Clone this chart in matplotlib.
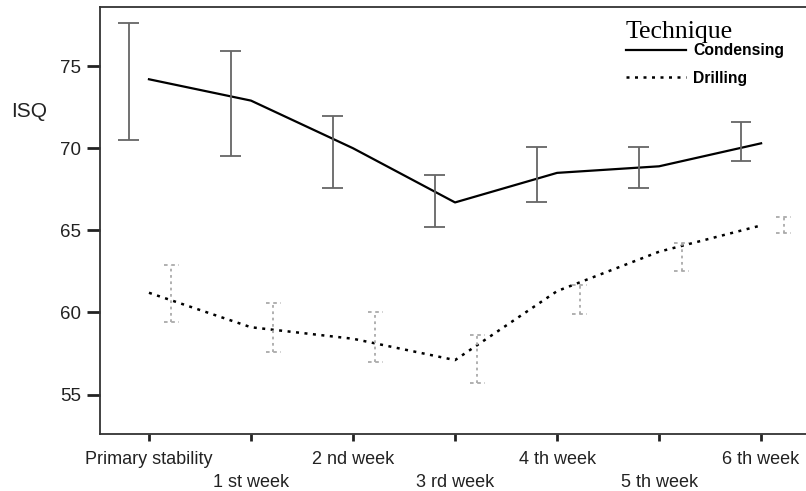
import matplotlib
matplotlib.use("Agg")
import matplotlib.pyplot as plt

plt.rcParams["font.family"] = ["Liberation Sans", "DejaVu Sans"]

weeks = ["Primary stability", "1 st week", "2 nd week", "3 rd week",
         "4 th week", "5 th week", "6 th week"]

# condensing technique
cond_mean = [74.2, 72.9, 70.0, 66.7, 68.5, 68.9, 70.3]
cond_low = [70.5, 69.5, 67.6, 65.2, 66.7, 67.6, 69.2]
cond_high = [77.6, 75.9, 71.95, 68.4, 70.1, 70.1, 71.6]

# drilling technique
drill_mean = [61.2, 59.1, 58.4, 57.1, 61.3, 63.7, 65.3]
drill_low = [59.45, 57.6, 57.0, 55.7, 59.9, 62.5, 64.85]
drill_high = [62.9, 60.6, 60.05, 58.65, 61.7, 64.2, 65.8]

x = list(range(len(weeks)))
x_cond_bar = [i - 0.2 for i in x]
x_drill_bar = [i + 0.22 for i in x]

fig = plt.figure(figsize=(8.06, 4.91), dpi=100)
ax = fig.add_axes([100 / 806, 1 - 434 / 491, 1 - 100 / 806, (434 - 7) / 491])

ax.plot(x, cond_mean, color="black", lw=1.6, label="Condensing")
ax.plot(x, drill_mean, color="black", lw=1.8, ls=(0, (1.2, 2.2)), label="Drilling")

# error bars (95% CI)
cap = 0.1
ax.vlines(x_cond_bar, cond_low, cond_high, color="#666666", lw=1.3)
ax.hlines(cond_low, [v - cap for v in x_cond_bar], [v + cap for v in x_cond_bar], color="#666666", lw=1.3)
ax.hlines(cond_high, [v - cap for v in x_cond_bar], [v + cap for v in x_cond_bar], color="#666666", lw=1.3)

cap2 = 0.07
ax.vlines(x_drill_bar, drill_low, drill_high, color="#aaaaaa", lw=1.3, linestyles=(0, (1.5, 2)))
ax.hlines(drill_low, [v - cap2 for v in x_drill_bar], [v + cap2 for v in x_drill_bar], color="#aaaaaa", lw=1.3, linestyles=(0, (2, 2)))
ax.hlines(drill_high, [v - cap2 for v in x_drill_bar], [v + cap2 for v in x_drill_bar], color="#aaaaaa", lw=1.3, linestyles=(0, (2, 2)))

ax.set_xlim(-0.48, 6.44)
ax.set_ylim(52.6, 78.6)
ax.set_yticks([55, 60, 65, 70, 75])
ax.set_xticks(x)
ax.set_xticklabels(weeks)

ax.tick_params(axis="y", length=9.5, width=2, direction="out", labelsize=13.5, colors="#222222", pad=4)
ax.tick_params(axis="x", length=5, width=2, direction="out", labelsize=13, colors="#222222")
for i, t in enumerate(ax.xaxis.get_major_ticks()):
    t.set_pad(7.5 if i % 2 == 0 else 23.5)

for s in ["left", "bottom", "top"]:
    ax.spines[s].set_color("#333333")
    ax.spines[s].set_linewidth(1.3)
ax.spines["right"].set_visible(False)

ax.set_ylabel("ISQ", rotation=0, fontsize=15, color="#222222")
ax.yaxis.set_label_coords(-0.10, 0.733)

leg = ax.legend(loc="upper left", bbox_to_anchor=(626 / 806, 1 - 21 / 491),
                bbox_transform=fig.transFigure, frameon=False, title="Technique",
                title_fontproperties={"family": "Liberation Serif", "size": 18.5},
                prop={"weight": "bold", "size": 11.3}, handlelength=3.8,
                handletextpad=0.5, labelspacing=0.8, borderaxespad=0, borderpad=0)
leg._legend_box.align = "left"
leg._legend_box.sep = 0

fig.savefig("out.png", dpi=100)
